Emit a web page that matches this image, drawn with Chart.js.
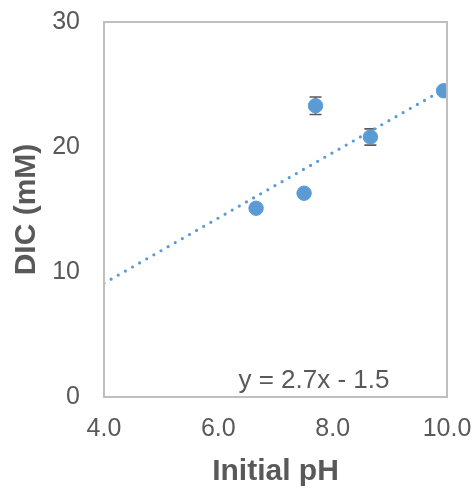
<!DOCTYPE html>
<html>
<head>
<meta charset="utf-8">
<script src="https://cdn.jsdelivr.net/npm/chart.js@4/dist/chart.umd.min.js"></script>
<style>
  html, body { margin: 0; padding: 0; background: #fff; }
  #wrap { width: 475px; height: 490px; position: relative; }
</style>
</head>
<body>
<div id="wrap"><canvas id="chartDIC"></canvas></div>
<script>
// measured values
const phValues = [6.66, 7.50, 7.70, 8.66, 9.94];
const dicValues = [15.1, 16.3, 23.3, 20.8, 24.5];
const dicErrors = [0, 0, 0.7, 0.65, 0];

// linear trendline (dotted), as drawn
const trendX = [4.0, 9.94];
const trendY = [9.1, 24.6];
const trendLabel = 'y = 2.7x - 1.5';

const xTicks = [4, 6, 8, 10];
const yTicks = [0, 10, 20, 30];

const blue = '#5B9BD5';
const grey = '#595959';
const frame = '#BFBFBF';
const fontFamily = '"Liberation Sans", Arial, sans-serif';

// error bars drawn under the markers
const errorBars = {
    id: 'errorBars',
    beforeDatasetsDraw(chart) {
        const { ctx, scales: { x, y } } = chart;
        ctx.save();
        ctx.strokeStyle = grey;
        ctx.lineWidth = 1.6;
        phValues.forEach((ph, i) => {
            const e = dicErrors[i];
            if (!e) return;
            const px = x.getPixelForValue(ph);
            const top = y.getPixelForValue(dicValues[i] + e);
            const bot = y.getPixelForValue(dicValues[i] - e);
            ctx.beginPath();
            ctx.moveTo(px, top); ctx.lineTo(px, bot);
            ctx.moveTo(px - 6, top); ctx.lineTo(px + 6, top);
            ctx.moveTo(px - 6, bot); ctx.lineTo(px + 6, bot);
            ctx.stroke();
        });
        ctx.restore();
    }
};

// plot frame and trendline equation
const frameAndLabel = {
    id: 'frameAndLabel',
    afterDraw(chart) {
        const { ctx, chartArea: a } = chart;
        ctx.save();
        ctx.strokeStyle = frame;
        ctx.lineWidth = 2;
        ctx.strokeRect(a.left, a.top, a.right - a.left, a.bottom - a.top);
        ctx.fillStyle = grey;
        ctx.font = '26px ' + fontFamily;
        ctx.textAlign = 'center';
        ctx.textBaseline = 'middle';
        ctx.fillText(trendLabel, 314, 381);
        ctx.restore();
    }
};

new Chart(document.getElementById('chartDIC').getContext('2d'), {
    type: 'scatter',
    data: {
        datasets: [{
            label: 'DIC',
            data: phValues.map((v, i) => ({ x: v, y: dicValues[i] })),
            backgroundColor: blue,
            borderColor: blue,
            borderWidth: 1,
            pointRadius: 7.2,
            order: 1
        }, {
            type: 'line',
            label: 'Linear',
            data: trendX.map((v, i) => ({ x: v, y: trendY[i] })),
            borderColor: blue,
            borderWidth: 3.2,
            borderDash: [0, 8.2],
            borderCapStyle: 'round',
            pointRadius: 0,
            fill: false,
            order: 2
        }]
    },
    options: {
        responsive: true, maintainAspectRatio: false,
        animation: false,
        layout: { padding: { left: 0, right: 28, top: 22, bottom: 0 } },
        plugins: { legend: { display: false }, tooltip: { enabled: false } },
        scales: {
            x: {
                type: 'linear', min: 4, max: 10,
                afterBuildTicks: (s) => { s.ticks = xTicks.map(v => ({ value: v })); },
                afterFit: (s) => { s.height = 93; s.paddingLeft = 0; s.paddingRight = 0; },
                grid: { display: false, drawTicks: false },
                border: { display: false },
                ticks: {
                    color: grey, padding: 17,
                    font: { family: fontFamily, size: 25 },
                    callback: (v) => v.toFixed(1)
                },
                title: {
                    display: true, text: 'Initial pH', color: grey,
                    font: { family: fontFamily, size: 30, weight: 'bold' },
                    padding: { top: 0, bottom: 0 }
                }
            },
            y: {
                type: 'linear', min: 0, max: 30,
                afterBuildTicks: (s) => { s.ticks = yTicks.map(v => ({ value: v })); },
                afterFit: (s) => { s.width = 104; s.paddingTop = 0; s.paddingBottom = 0; },
                grid: { display: false, drawTicks: false },
                border: { display: false },
                ticks: {
                    color: grey, padding: 24,
                    font: { family: fontFamily, size: 25 }
                },
                title: {
                    display: true, text: 'DIC (mM)', color: grey,
                    font: { family: fontFamily, size: 30, weight: 'bold' },
                    padding: { top: 9, bottom: 0 }
                }
            }
        }
    },
    plugins: [errorBars, frameAndLabel]
});
</script>
</body>
</html>
